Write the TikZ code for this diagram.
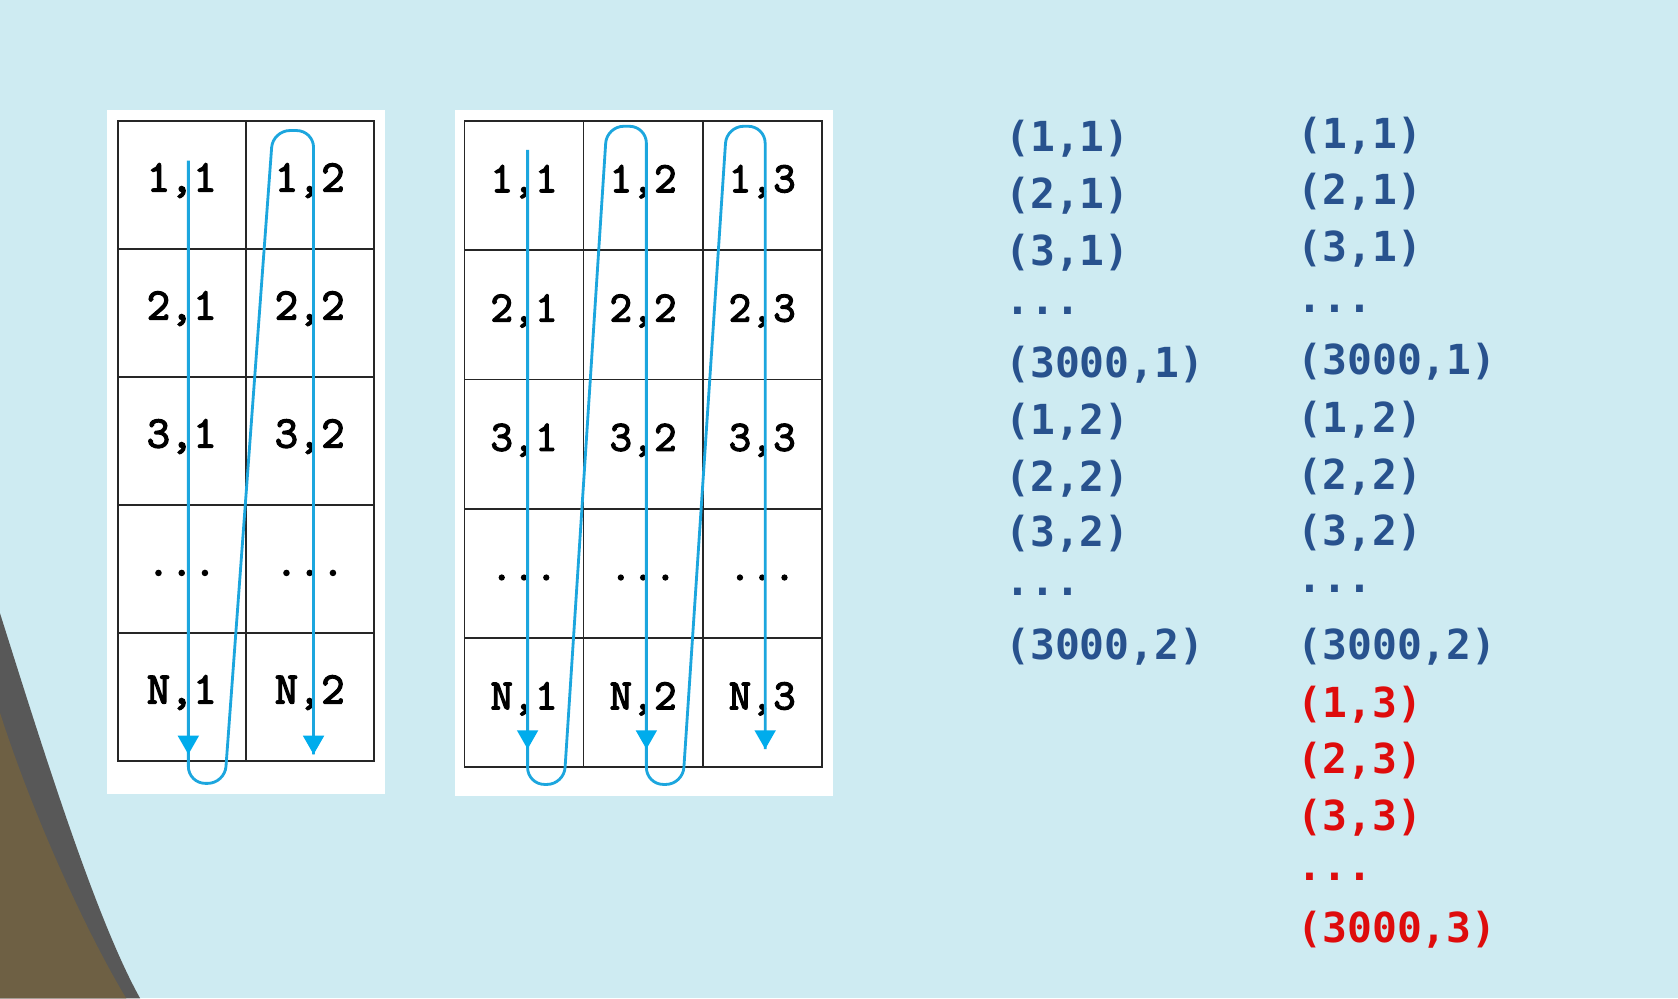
\documentclass[tikz,border=0pt]{standalone}
\usepackage{fontspec}
\usetikzlibrary{arrows.meta}
\newfontfamily\listfont{DejaVu Sans Mono}
\newfontfamily\cellfont{Latin Modern Mono}[FakeBold=3]
\definecolor{slide}{RGB}{206,235,242}
\definecolor{listblue}{RGB}{40,82,142}
\definecolor{listred}{RGB}{222,12,12}
\definecolor{flowblue}{RGB}{28,166,222}
\definecolor{tipblue}{RGB}{0,172,236}
\definecolor{hill}{RGB}{110,96,68}
\definecolor{hillrim}{RGB}{88,88,88}
\newcommand{\skipdots}{...}

\tikzset{
	lcell/.style={draw=black!85, line width=0.9pt, minimum width=2.392cm, minimum height=2.392cm,
		inner sep=0pt, text height=0.7em, text depth=0pt, font=\cellfont\fontsize{24}{28}\selectfont},
	mcell/.style={lcell, minimum width=2.226cm, minimum height=2.416cm, font=\cellfont\fontsize{23}{27}\selectfont},
	flow/.style={draw=flowblue, line width=1.5pt, rounded corners=9pt},
	tipdown/.style={draw=tipblue, line width=1.5pt, -{Triangle[width=11pt,length=10pt]}},
	entry/.style={anchor=base west, inner sep=0pt, font=\listfont\bfseries\fontsize{22}{26}\selectfont, text=listblue},
	redentry/.style={entry, text=listred},
}

\begin{document}
\begin{tikzpicture}[x=0.02cm, y=-0.02cm]

	\useasboundingbox (0,0) rectangle (1568,933);
	\fill[slide] (0,0) rectangle (1568,933);

	% hill in the corner
	\fill[hillrim] (0,573) .. controls (40,700) and (90,860) .. (131,933) -- (0,933) -- cycle;
	\fill[hill] (0,666) .. controls (30,760) and (80,870) .. (118,933) -- (0,933) -- cycle;

	% panels
	\fill[white] (100,103) rectangle (360,742);
	\fill[white] (425,103) rectangle (778,744);

	% left grid, 2 columns
	\foreach \r/\i in {1/1,2/2,3/3,N/5}
		\foreach \c in {1,2}
			\node[lcell] (L-\i-\c) at ({110+119.6*(\c-0.5)},{113+119.6*(\i-0.5)}) {\r,\c};
	\foreach \c in {1,2}
		\node[lcell] (L-4-\c) at ({110+119.6*(\c-0.5)},{113+119.6*3.5}) {\skipdots};

	% middle grid, 3 columns
	\foreach \r/\i in {1/1,2/2,3/3,N/5}
		\foreach \c in {1,2,3}
			\node[mcell] (M-\i-\c) at ({434+111.3*(\c-0.5)},{113+120.8*(\i-0.5)}) {\r,\c};
	\foreach \c in {1,2,3}
		\node[mcell] (M-4-\c) at ({434+111.3*(\c-0.5)},{113+120.8*3.5}) {\skipdots};

	% column order walk
	\draw[flow] (176,150) -- (176,732) -- (210,732) -- (255,122) -- (293,122) -- (293,705);
	\draw[tipdown] (176,688) -- (176,705);
	\draw[tipdown] (293,688) -- (293,705);

	\draw[flow] (493,140) -- (493,733) -- (527,733) -- (567,118) -- (604,118) -- (604,733)
		-- (638,733) -- (679,118) -- (715,118) -- (715,700);
	\foreach \x in {493,604,715}
		\draw[tipdown] (\x,683) -- (\x,700);

	% element lists
	\foreach \t/\y [count=\k] in {{(1,1)}/142,{(2,1)}/195,{(3,1)}/248,\skipdots/294,{(3000,1)}/353,
		{(1,2)}/406,{(2,2)}/459,{(3,2)}/511,\skipdots/556,{(3000,2)}/616}
		\node[entry] (A\k) at (939,\y) {\t};

	\foreach \t/\y [count=\k] in {{(1,1)}/139,{(2,1)}/191,{(3,1)}/244,\skipdots/292,{(3000,1)}/350,
		{(1,2)}/404,{(2,2)}/457,{(3,2)}/510,\skipdots/554,{(3000,2)}/616}
		\node[entry] (B\k) at (1212,\y) {\t};
	\foreach \t/\y [count=\k] in {{(1,3)}/670,{(2,3)}/723,{(3,3)}/776,\skipdots/823,{(3000,3)}/881}
		\node[redentry] (C\k) at (1212,\y) {\t};

\end{tikzpicture}
\end{document}
